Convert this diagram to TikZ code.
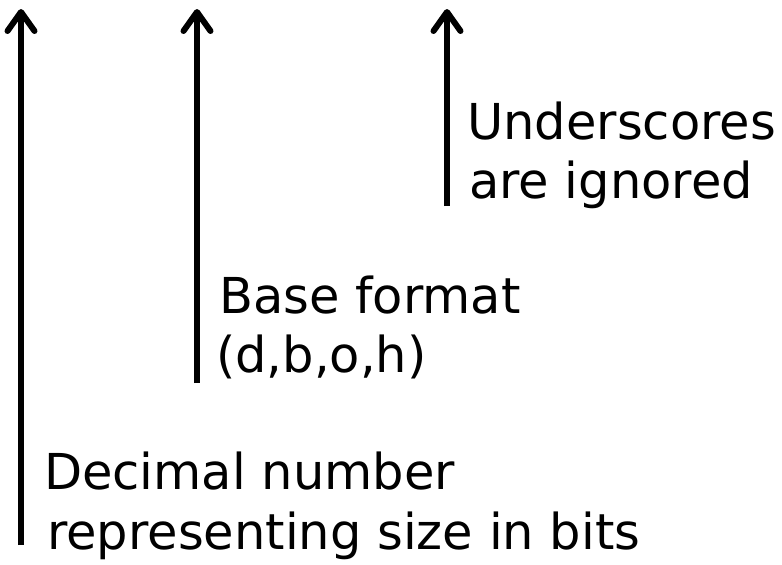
\documentclass[tikz,border=0pt]{standalone}
\usepackage{fontspec}
\setmainfont{DejaVu Sans}
\usetikzlibrary{arrows.meta}
\begin{document}
\begin{tikzpicture}[x=1pt,y=-1pt,
  pointer/.style={line width=6pt,-{Straight Barb[length=19pt,width=27pt,line cap=round,line join=round]}},
  label/.style={anchor=base west,inner sep=0pt,font=\fontsize{49.5}{58}\selectfont}]
\useasboundingbox (0,0) rectangle (782,565);
% arrow end points
\coordinate (s1) at (21,545);
\coordinate (t1) at (21,9);
\coordinate (s2) at (197,383);
\coordinate (t2) at (197,9);
\coordinate (s3) at (447,206);
\coordinate (t3) at (447,9);
\draw[pointer] (s1) -- (t1);
\draw[pointer] (s2) -- (t2);
\draw[pointer] (s3) -- (t3);
% labels
\node[label] (u1) at (467,139) {Underscores};
\node[label] (u2) at (469,198) {are ignored};
\node[label] (b1) at (219,313) {Base format};
\node[label] (b2) at (216,372) {(d,b,o,h)};
\node[label] (d1) at (44,489) {Decimal number};
\node[label] (d2) at (47,549) {representing size in bits};
\end{tikzpicture}
\end{document}
